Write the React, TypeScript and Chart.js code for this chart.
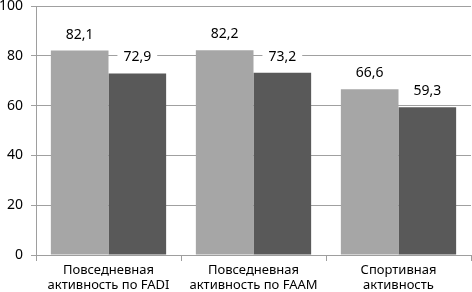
import React, { useEffect, useRef } from "react";
import { Chart, registerables } from "chart.js";

Chart.register(...registerables);

const categories: string[][] = [
  ["Повседневная", "активность по FADI"],
  ["Повседневная", "активность по FAAM"],
  ["Спортивная", "активность"],
];
const seriesA: number[] = [82.1, 82.2, 66.6];
const seriesB: number[] = [72.9, 73.2, 59.3];
const yTicks: number[] = [0, 20, 40, 60, 80, 100];

const FONT = "'Noto Sans', sans-serif";

const labelPlugin = {
  id: "valueLabels",
  afterDatasetsDraw(chart: any) {
    const ctx = chart.ctx;
    ctx.save();
    ctx.font = `14px ${FONT}`;
    ctx.textAlign = "center";
    ctx.textBaseline = "middle";
    chart.data.datasets.forEach((ds: any, di: number) => {
      const meta = chart.getDatasetMeta(di);
      meta.data.forEach((bar: any, i: number) => {
        const txt = ds.data[i].toFixed(1).replace(".", ",");
        const w = ctx.measureText(txt).width;
        const cy = bar.y - 17;
        ctx.fillStyle = "#ffffff";
        ctx.fillRect(bar.x - w / 2 - 6, cy - 9, w + 12, 18);
        ctx.fillStyle = "#000000";
        ctx.fillText(txt, bar.x, cy + 1);
      });
    });
    ctx.restore();
  },
};

export default function App() {
  const ref = useRef<HTMLCanvasElement>(null);
  useEffect(() => {
    document.body.style.margin = "0";
    const chart = new Chart(ref.current!, {
      type: "bar",
      data: {
        labels: categories,
        datasets: [
          { data: seriesA, backgroundColor: "#a6a6a6", categoryPercentage: 0.795, barPercentage: 1 },
          { data: seriesB, backgroundColor: "#595959", categoryPercentage: 0.795, barPercentage: 1 },
        ],
      },
      options: {
        animation: false,
        responsive: false,
        layout: { padding: { left: 0, right: 1, top: 6, bottom: 0 } },
        plugins: { legend: { display: false }, tooltip: { enabled: false } },
        scales: {
          x: {
            grid: { drawOnChartArea: false, drawTicks: true, tickLength: 6, color: "#9e9e9e", offset: true },
            border: { color: "#9e9e9e" },
            ticks: { color: "#000", font: { family: FONT, size: 13 }, padding: 1, maxRotation: 0, autoSkip: false },
            afterFit: (s: any) => { s.height = 37; s.paddingLeft = 0; s.paddingRight = 0; },
          },
          y: {
            min: 0,
            max: 100,
            afterBuildTicks: (s: any) => { s.ticks = yTicks.map((v) => ({ value: v })); },
            grid: { color: "#a0a0a0", tickLength: 5 },
            border: { color: "#9e9e9e" },
            ticks: { color: "#000", font: { family: FONT, size: 14 }, padding: 8 },
            afterFit: (s: any) => { s.width = 36; s.paddingTop = 0; s.paddingBottom = 0; },
          },
        },
      },
      plugins: [labelPlugin],
    });
    return () => chart.destroy();
  }, []);
  return <canvas ref={ref} width={472} height={292} style={{ display: "block" }} />;
}
